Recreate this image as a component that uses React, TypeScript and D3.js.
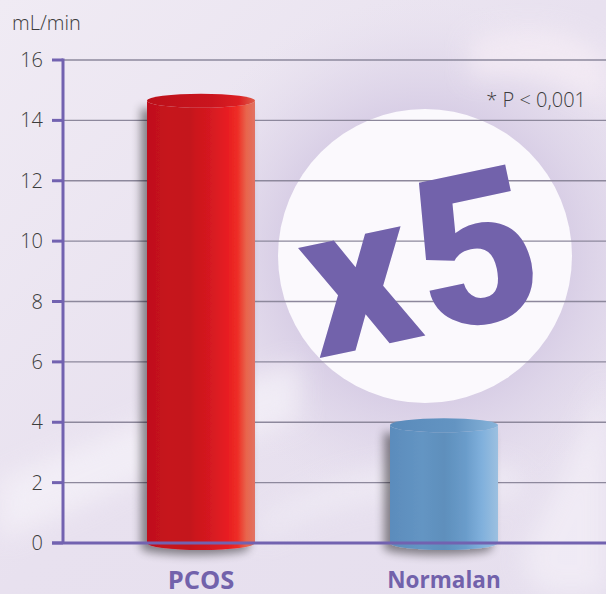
import React from 'react';
import * as d3 from 'd3';

const categories = ['PCOS', 'Normalan'];
const values = [14.65, 3.9];
const yTicks = [0, 2, 4, 6, 8, 10, 12, 14, 16];
const unitLabel = 'mL/min';
const pNote = '* P < 0,001';
const badgeText = 'x5';

const W = 606;
const H = 594;

export default function App() {
  const y = d3.scaleLinear().domain([0, 16]).range([543, 60]);
  const x = d3
    .scaleBand<string>()
    .domain(categories)
    .range([63, 582])
    .paddingInner(0.5556)
    .paddingOuter(0.3457);
  const bw = x.bandwidth();
  const ry = 7;
  const gradIds = ['gradRed', 'gradBlue'];
  const topFills = ['url(#gradRedTop)', 'url(#gradBlueTop)'];

  const cyl = (x0: number, x1: number, yt: number, yb: number) => {
    const rx = (x1 - x0) / 2;
    return `M${x0},${yt} L${x0},${yb} A${rx},${ry} 0 0 0 ${x1},${yb} L${x1},${yt} A${rx},${ry} 0 0 1 ${x0},${yt} Z`;
  };

  const axisColor = '#7262b0';
  const cx = 425, cy = 256, cr = 147;

  return (
    <svg
      width={W}
      height={H}
      style={{ position: 'absolute', left: 0, top: 0, display: 'block' }}
      fontFamily="'Open Sans', sans-serif"
    >
      <defs>
        <linearGradient id="bg" x1="0" y1="0" x2="1" y2="1">
          <stop offset="0%" stopColor="#f0ebf4" />
          <stop offset="50%" stopColor="#e8e1ef" />
          <stop offset="100%" stopColor="#e6dfee" />
        </linearGradient>
        <radialGradient id="halo" cx={cx} cy={cy} r={260} gradientUnits="userSpaceOnUse">
          <stop offset="50%" stopColor="#d2c7e2" stopOpacity="0.9" />
          <stop offset="75%" stopColor="#dcd3e8" stopOpacity="0.5" />
          <stop offset="100%" stopColor="#e8e1ef" stopOpacity="0" />
        </radialGradient>
        <linearGradient id="gradRed" x1="0" y1="0" x2="1" y2="0">
          <stop offset="0%" stopColor="#c0101b" />
          <stop offset="20%" stopColor="#c6131d" />
          <stop offset="40%" stopColor="#c4121c" />
          <stop offset="45%" stopColor="#cc151e" />
          <stop offset="60%" stopColor="#d61a20" />
          <stop offset="75%" stopColor="#e81e22" />
          <stop offset="84%" stopColor="#ee2e26" />
          <stop offset="92%" stopColor="#e8654c" />
          <stop offset="100%" stopColor="#e27262" />
        </linearGradient>
        <linearGradient id="gradRedTop" x1="0" y1="0" x2="1" y2="0">
          <stop offset="0%" stopColor="#bc101a" />
          <stop offset="60%" stopColor="#ca151e" />
          <stop offset="85%" stopColor="#dc1e22" />
          <stop offset="100%" stopColor="#de5e4a" />
        </linearGradient>
        <linearGradient id="gradBlue" x1="0" y1="0" x2="1" y2="0">
          <stop offset="0%" stopColor="#5b8cbc" />
          <stop offset="30%" stopColor="#6495c3" />
          <stop offset="50%" stopColor="#5e8fbc" />
          <stop offset="70%" stopColor="#6a9cca" />
          <stop offset="85%" stopColor="#80b0dc" />
          <stop offset="100%" stopColor="#9cc0e0" />
        </linearGradient>
        <linearGradient id="gradBlueTop" x1="0" y1="0" x2="1" y2="0">
          <stop offset="0%" stopColor="#5a8bbb" />
          <stop offset="60%" stopColor="#6394c2" />
          <stop offset="100%" stopColor="#88b4da" />
        </linearGradient>
        <filter id="shadow" x="-30%" y="-10%" width="160%" height="130%">
          <feGaussianBlur in="SourceAlpha" stdDeviation="5" />
          <feOffset dx="-6" dy="5" result="b" />
          <feComponentTransfer>
            <feFuncA type="linear" slope="0.45" />
          </feComponentTransfer>
          <feMerge>
            <feMergeNode />
            <feMergeNode in="SourceGraphic" />
          </feMerge>
        </filter>
        <filter id="soft" x="-20%" y="-20%" width="140%" height="140%">
          <feGaussianBlur stdDeviation="12" />
        </filter>
      </defs>

      {/* background */}
      <rect x={0} y={0} width={W} height={H} fill="url(#bg)" />
      <circle cx={cx} cy={cy} r={260} fill="url(#halo)" />
      <g filter="url(#soft)" opacity={0.7}>
        <path d="M0,480 C120,430 220,390 300,360 L300,420 C200,450 100,500 0,540 Z" fill="#f6f3f9" />
        <path d="M470,40 C530,20 580,30 606,60 L606,110 C570,80 520,70 470,80 Z" fill="#f7eef6" />
        <path d="M520,560 C560,480 590,420 606,380 L606,594 L540,594 Z" fill="#f4f0f8" />
        <path d="M260,520 C330,470 420,450 520,470 L520,500 C420,485 330,500 260,540 Z" fill="#f1edf6" />
      </g>

      {/* circle badge */}
      <circle cx={cx} cy={cy} r={cr} fill="#fbf9fd" />

      {/* grid lines */}
      {yTicks.filter((t) => t > 0).map((t) => (
        <line key={t} x1={63} x2={W} y1={y(t)} y2={y(t)} stroke="#8d889c" strokeWidth={1.4} />
      ))}

      {/* badge text */}
      <text
        x={437}
        y={333}
        transform="rotate(-12 437 333)"
        textAnchor="middle"
        fontFamily="Roboto, 'Open Sans', sans-serif"
        fontWeight={900}
        fontSize={212}
        letterSpacing={5}
        fill="#7262ab"
      >
        {badgeText}
      </text>

      <text x={586} y={107} textAnchor="end" fontSize={20} fontWeight={300} fill="#3c3c3c">
        {pNote}
      </text>

      {/* bars */}
      {categories.map((c, i) => {
        const x0 = x(c) as number;
        const x1 = x0 + bw;
        const yt = y(values[i]);
        const yb = y(0);
        return (
          <g key={c}>
            <path d={cyl(x0, x1, yt, yb)} fill={`url(#${gradIds[i]})`} filter="url(#shadow)" />
            <ellipse cx={x0 + bw / 2} cy={yt} rx={bw / 2} ry={ry} fill={topFills[i]} />
          </g>
        );
      })}

      {/* axes */}
      <line x1={63} x2={63} y1={y(16) - 1.5} y2={y(0)} stroke={axisColor} strokeWidth={3} />
      <line x1={52} x2={W} y1={y(0)} y2={y(0)} stroke={axisColor} strokeWidth={3} />
      {yTicks.map((t) => (
        <g key={t}>
          <line x1={52} x2={63} y1={y(t)} y2={y(t)} stroke={axisColor} strokeWidth={3} />
          <text
            x={43}
            y={y(t)}
            dy="0.35em"
            textAnchor="end"
            fontSize={20}
            fontWeight={300}
            fill="#3c3c3c"
          >
            {t}
          </text>
        </g>
      ))}
      <text x={12} y={30} fontSize={20} fontWeight={300} fill="#3c3c3c">
        {unitLabel}
      </text>

      {/* category labels */}
      {categories.map((c, i) => (
        <text
          key={c}
          x={(x(c) as number) + bw / 2}
          y={i === 0 ? 589 : 588}
          textAnchor="middle"
          fontSize={i === 0 ? 25.5 : 22.5}
          fontWeight={700}
          fill="#7262ab"
        >
          {c}
        </text>
      ))}
    </svg>
  );
}
